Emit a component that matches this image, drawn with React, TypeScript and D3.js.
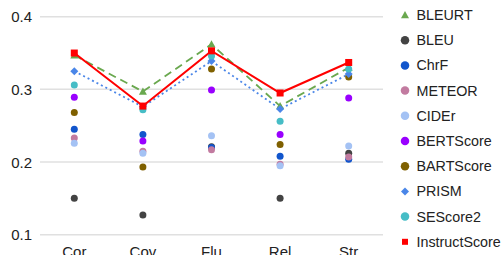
import React from "react";
import * as d3 from "d3";

const categories = ["Cor", "Cov", "Flu", "Rel", "Str"];
const seriesNames = ["BLEURT", "BLEU", "ChrF", "METEOR", "CIDEr", "BERTScore", "BARTScore", "PRISM", "SEScore2", "InstructScore"];
const bleurt = [0.347, 0.297, 0.362, 0.277, 0.330];
const bleu = [0.150, 0.127, 0.221, 0.150, 0.212];
const chrf = [0.245, 0.238, 0.220, 0.208, 0.204];
const meteor = [0.233, 0.215, 0.217, 0.197, 0.207];
const cider = [0.226, 0.212, 0.236, 0.195, 0.222];
const bertscore = [0.289, 0.229, 0.299, 0.238, 0.288];
const bartscore = [0.268, 0.193, 0.328, 0.224, 0.317];
const prism = [0.325, 0.276, 0.339, 0.273, 0.321];
const sescore2 = [0.306, 0.272, 0.346, 0.256, 0.328];
const instructscore = [0.350, 0.277, 0.353, 0.295, 0.337];
const yTicks = [0.1, 0.2, 0.3, 0.4];

const seriesValues = [bleurt, bleu, chrf, meteor, cider, bertscore, bartscore, prism, sescore2, instructscore];
const colors = ["#6aa84f", "#434343", "#1155cc", "#c27ba0", "#a4c2f4", "#9900ff", "#7f6000", "#4a86e8", "#46bdc6", "#ff0000"];
const shapes = ["triangle", "circle", "circle", "circle", "circle", "circle", "circle", "diamond", "circle", "square"];
const lineStyles: Record<string, string | null> = { BLEURT: "8,5", PRISM: "2,3", InstructScore: "none" };

const FONT = "'Liberation Sans', Arial, sans-serif";

function Marker({ shape, x, y, color, size }: { shape: string; x: number; y: number; color: string; size: number }) {
  if (shape === "circle") return <circle cx={x} cy={y} r={size / 2} fill={color} />;
  if (shape === "square") return <rect x={x - size / 2} y={y - size / 2} width={size} height={size} fill={color} />;
  if (shape === "diamond") {
    const s = size / 2 + 0.5;
    return <path d={`M${x},${y - s}L${x + s},${y}L${x},${y + s}L${x - s},${y}Z`} fill={color} />;
  }
  const s = size / 2 + 0.5;
  return <path d={`M${x},${y - s}L${x + s},${y + s * 0.8}L${x - s},${y + s * 0.8}Z`} fill={color} />;
}

export default function App() {
  const W = 502, H = 255;
  const x = d3.scalePoint<string>().domain(categories).range([40, 383]).padding(0.5);
  const y = d3.scaleLinear().domain([0.1, 0.4]).range([234.7, 16.7]);
  const line = d3.line<number>().x((_, i) => x(categories[i])!).y((v) => y(v));

  return (
    <svg width={W} height={H} style={{ position: "absolute", left: 0, top: 0, background: "#fff" }} fontFamily={FONT}>
      {yTicks.map((t) => (
        <g key={t}>
          <line x1={40} x2={383} y1={y(t)} y2={y(t)} stroke="#e0e0e0" strokeWidth={1.5} />
          <text x={32} y={y(t) + 5.5} textAnchor="end" fontSize={15} fill="#222">{t.toFixed(1)}</text>
        </g>
      ))}
      {categories.map((c) => (
        <text key={c} x={x(c)} y={257} textAnchor="middle" fontSize={15} fill="#222">{c}</text>
      ))}
      {seriesNames.map((name, si) => {
        const dash = lineStyles[name];
        if (dash === undefined) return null;
        return (
          <path key={name} d={line(seriesValues[si]) || ""} fill="none" stroke={colors[si]}
            strokeWidth={name === "InstructScore" ? 2 : 1.8}
            strokeDasharray={dash === "none" ? undefined : dash!} />
        );
      })}
      {seriesNames.map((name, si) => (
        <g key={name}>
          {seriesValues[si].map((v, i) => (
            <Marker key={i} shape={shapes[si]} x={x(categories[i])!} y={y(v)} color={colors[si]} size={7} />
          ))}
        </g>
      ))}
      {seriesNames.map((name, si) => {
        const ly = 15 + si * 25.2;
        return (
          <g key={name}>
            <Marker shape={shapes[si]} x={405} y={ly} color={colors[si]} size={si === 0 || si === 7 ? 7 : si === 9 ? 6 : 8.5} />
            <text x={416.5} y={ly + 5} fontSize={14.3} fill="#222">{name}</text>
          </g>
        );
      })}
    </svg>
  );
}
